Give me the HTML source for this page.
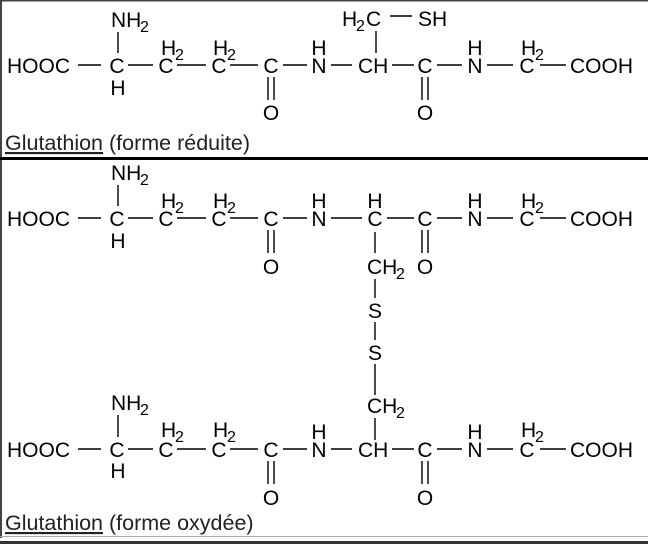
<!DOCTYPE html>
<html><head><meta charset="utf-8"><style>
html,body{margin:0;padding:0;background:#fff;width:648px;height:544px;overflow:hidden}
svg{display:block}
text{font-family:"Liberation Sans",sans-serif;font-size:21px;fill:#000}
.s{font-size:16px}
.cap{font-size:21.5px;fill:#222}
line{stroke:#000;stroke-width:1.4}
</style></head><body>
<svg width="648" height="544" viewBox="0 0 648 544" xmlns="http://www.w3.org/2000/svg">
<rect x="0" y="0" width="648" height="1.5" fill="#444"/>
<rect x="0" y="0" width="2" height="538" fill="#444"/>
<rect x="0" y="157" width="648" height="3" fill="#000"/>
<rect x="0" y="536" width="648" height="1" fill="#aaa"/>
<rect x="0" y="541" width="648" height="3" fill="#333"/>

<g>
<text x="7" y="73">HOOC</text>
<line x1="78" y1="65" x2="101" y2="65"/>
<text x="117" y="73" text-anchor="middle">C</text>
<text x="111" y="27">NH</text><text class="s" x="140" y="32">2</text>
<line x1="118" y1="32" x2="118" y2="53"/>
<text x="118" y="95" text-anchor="middle">H</text>
<line x1="128" y1="65" x2="153" y2="65"/>
<text x="166" y="73" text-anchor="middle">C</text>
<text x="161" y="55">H</text><text class="s" x="175" y="60">2</text>
<line x1="177" y1="65" x2="206" y2="65"/>
<text x="219" y="73" text-anchor="middle">C</text>
<text x="213" y="55">H</text><text class="s" x="227" y="60">2</text>
<line x1="230" y1="65" x2="258" y2="65"/>
<text x="271" y="73" text-anchor="middle">C</text>
<line x1="268" y1="77" x2="268" y2="100"/><line x1="274" y1="77" x2="274" y2="100"/>
<text x="271" y="120" text-anchor="middle">O</text>
<line x1="283" y1="65" x2="307" y2="65"/>
<text x="319" y="73" text-anchor="middle">N</text>
<text x="319" y="55" text-anchor="middle">H</text>
<line x1="331" y1="65" x2="352" y2="65"/>
<text x="358" y="73">CH</text>
<line x1="376" y1="31" x2="376" y2="53"/>
<text x="342" y="26">H</text><text class="s" x="356" y="31">2</text><text x="366" y="26">C</text>
<line x1="390" y1="16" x2="412" y2="16"/>
<text x="418" y="26">SH</text>
<line x1="392" y1="65" x2="414" y2="65"/>
<text x="425" y="73" text-anchor="middle">C</text>
<line x1="422" y1="77" x2="422" y2="100"/><line x1="428" y1="77" x2="428" y2="100"/>
<text x="425" y="120" text-anchor="middle">O</text>
<line x1="437" y1="65" x2="462" y2="65"/>
<text x="475" y="73" text-anchor="middle">N</text>
<text x="475" y="55" text-anchor="middle">H</text>
<line x1="487" y1="65" x2="513" y2="65"/>
<text x="527" y="73" text-anchor="middle">C</text>
<text x="521" y="55">H</text><text class="s" x="535" y="60">2</text>
<line x1="540" y1="65" x2="566" y2="65"/>
<text x="570" y="73">COOH</text>
</g>
<text class="cap" x="5" y="150"><tspan text-decoration="underline">Glutathion</tspan> (forme réduite)</text>

<g>
<text x="7" y="226">HOOC</text>
<line x1="78" y1="218" x2="101" y2="218"/>
<text x="117" y="226" text-anchor="middle">C</text>
<text x="111" y="180">NH</text><text class="s" x="140" y="185">2</text>
<line x1="118" y1="185" x2="118" y2="206"/>
<text x="118" y="248" text-anchor="middle">H</text>
<line x1="128" y1="218" x2="153" y2="218"/>
<text x="166" y="226" text-anchor="middle">C</text>
<text x="161" y="208">H</text><text class="s" x="175" y="213">2</text>
<line x1="177" y1="218" x2="206" y2="218"/>
<text x="219" y="226" text-anchor="middle">C</text>
<text x="213" y="208">H</text><text class="s" x="227" y="213">2</text>
<line x1="230" y1="218" x2="258" y2="218"/>
<text x="271" y="226" text-anchor="middle">C</text>
<line x1="268" y1="230" x2="268" y2="253"/><line x1="274" y1="230" x2="274" y2="253"/>
<text x="271" y="274" text-anchor="middle">O</text>
<line x1="283" y1="218" x2="307" y2="218"/>
<text x="319" y="226" text-anchor="middle">N</text>
<text x="319" y="208" text-anchor="middle">H</text>
<line x1="331" y1="218" x2="362" y2="218"/>
<text x="375" y="226" text-anchor="middle">C</text>
<text x="375" y="208" text-anchor="middle">H</text>
<line x1="387" y1="218" x2="414" y2="218"/>
<text x="425" y="226" text-anchor="middle">C</text>
<line x1="422" y1="230" x2="422" y2="253"/><line x1="428" y1="230" x2="428" y2="253"/>
<text x="425" y="274" text-anchor="middle">O</text>
<line x1="437" y1="218" x2="462" y2="218"/>
<text x="475" y="226" text-anchor="middle">N</text>
<text x="475" y="208" text-anchor="middle">H</text>
<line x1="487" y1="218" x2="513" y2="218"/>
<text x="527" y="226" text-anchor="middle">C</text>
<text x="521" y="208">H</text><text class="s" x="535" y="213">2</text>
<line x1="540" y1="218" x2="566" y2="218"/>
<text x="570" y="226">COOH</text>
</g>

<line x1="375" y1="232" x2="375" y2="253"/>
<text x="367" y="274">CH</text><text class="s" x="396" y="279">2</text>
<line x1="375" y1="279" x2="375" y2="298"/>
<text x="375" y="318" text-anchor="middle">S</text>
<line x1="375" y1="322" x2="375" y2="340"/>
<text x="375" y="360" text-anchor="middle">S</text>
<line x1="375" y1="364" x2="375" y2="395"/>
<text x="367" y="413">CH</text><text class="s" x="396" y="418">2</text>
<line x1="375" y1="418" x2="375" y2="440"/>

<g>
<text x="7" y="457">HOOC</text>
<line x1="78" y1="449" x2="101" y2="449"/>
<text x="117" y="457" text-anchor="middle">C</text>
<text x="111" y="410">NH</text><text class="s" x="140" y="415">2</text>
<line x1="118" y1="415" x2="118" y2="437"/>
<text x="118" y="478" text-anchor="middle">H</text>
<line x1="128" y1="449" x2="153" y2="449"/>
<text x="166" y="457" text-anchor="middle">C</text>
<text x="161" y="437">H</text><text class="s" x="175" y="442">2</text>
<line x1="177" y1="449" x2="206" y2="449"/>
<text x="219" y="457" text-anchor="middle">C</text>
<text x="213" y="437">H</text><text class="s" x="227" y="442">2</text>
<line x1="230" y1="449" x2="258" y2="449"/>
<text x="271" y="457" text-anchor="middle">C</text>
<line x1="268" y1="461" x2="268" y2="484"/><line x1="274" y1="461" x2="274" y2="484"/>
<text x="271" y="505" text-anchor="middle">O</text>
<line x1="283" y1="449" x2="307" y2="449"/>
<text x="319" y="457" text-anchor="middle">N</text>
<text x="319" y="439" text-anchor="middle">H</text>
<line x1="331" y1="449" x2="352" y2="449"/>
<text x="358" y="457">CH</text>
<line x1="392" y1="449" x2="414" y2="449"/>
<text x="425" y="457" text-anchor="middle">C</text>
<line x1="422" y1="461" x2="422" y2="484"/><line x1="428" y1="461" x2="428" y2="484"/>
<text x="425" y="505" text-anchor="middle">O</text>
<line x1="437" y1="449" x2="462" y2="449"/>
<text x="475" y="457" text-anchor="middle">N</text>
<text x="475" y="439" text-anchor="middle">H</text>
<line x1="487" y1="449" x2="513" y2="449"/>
<text x="527" y="457" text-anchor="middle">C</text>
<text x="521" y="437">H</text><text class="s" x="535" y="442">2</text>
<line x1="540" y1="449" x2="566" y2="449"/>
<text x="570" y="457">COOH</text>
</g>
<text class="cap" x="5" y="530"><tspan text-decoration="underline">Glutathion</tspan> (forme oxydée)</text>
</svg>
</body></html>
